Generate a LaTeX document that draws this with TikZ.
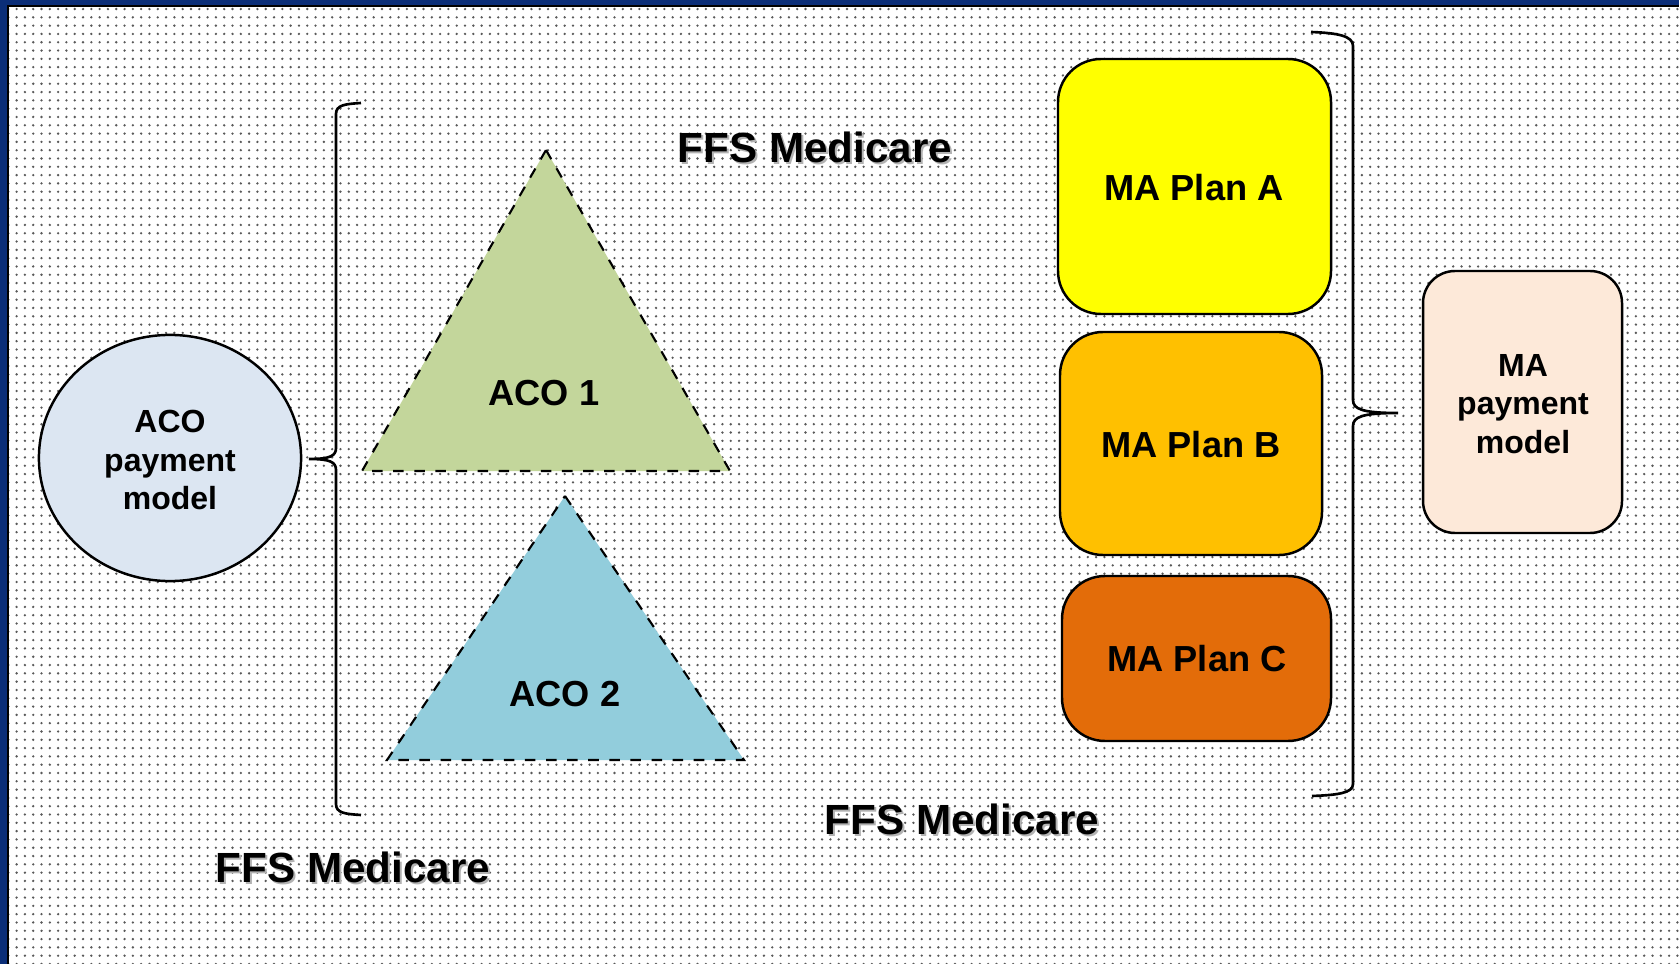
\documentclass[tikz,border=0pt]{standalone}
\usepackage{fontspec}
\setmainfont{Liberation Sans}
\usetikzlibrary{patterns.meta,shapes.geometric}
\definecolor{navy}{HTML}{0B2E78}
\definecolor{acoc}{HTML}{DCE6F2}
\definecolor{tri1}{HTML}{C3D69B}
\definecolor{tri2}{HTML}{92CDDC}
\definecolor{plana}{HTML}{FFFF00}
\definecolor{planb}{HTML}{FFC000}
\definecolor{planc}{HTML}{E36C09}
\definecolor{mapay}{HTML}{FDE9D9}
\tikzset{
  lbl/.style={font=\bfseries\fontsize{9.1pt}{11pt}\selectfont, align=center, text=black},
  big/.style={font=\bfseries\fontsize{10.3pt}{12pt}\selectfont, align=center},
  ffs/.style={font=\bfseries\fontsize{12pt}{14pt}\selectfont},
  plan/.style={draw=black, line width=0.7pt, rounded corners=0.43cm},
  tri/.style={draw=black, line width=0.6pt, dashed},
  brace/.style={draw=black, line width=0.75pt},
}
\begin{document}
\begin{tikzpicture}[x=0.01cm, y=-0.01cm]
\useasboundingbox (0,0) rectangle (1679,964);
\fill[navy] (0,0) rectangle (1679,964);
\fill[white] (8,6) rectangle (1690,975);
\fill[pattern={Dots[distance=0.083cm, radius=0.013cm]}, pattern color=gray!70!black] (8,6) rectangle (1690,975);
\draw[black, line width=0.6pt] (1690,6) -- (8,6) -- (8,975);

% ACO payment model
\node[draw=black, line width=0.7pt, fill=acoc, ellipse, minimum width=2.62cm, minimum height=2.46cm, inner sep=0pt, lbl] (acopay) at (170,458) {};
\node[lbl] (acotxt) at (170,460) {ACO\\payment\\model};

% left brace
\draw[brace] (361,103) .. controls (345,104) and (336,105) .. (336,114) -- (336,448)
  .. controls (336,456) and (330,459) .. (309,459)
  .. controls (330,459) and (336,462) .. (336,470) -- (336,804)
  .. controls (336,813) and (345,814) .. (361,815);

% triangles
\draw[tri, fill=tri1] (546,150) -- (730,471) -- (362,471) -- cycle;
\node[big] (aco1) at (544,393) {ACO 1};
\draw[tri, fill=tri2] (565,496) -- (744,760) -- (387,760) -- cycle;
\node[big] (aco2) at (565,694) {ACO 2};

% FFS labels
\node[ffs, text=gray!60] at (817,149) {FFS Medicare};
\node[ffs] (ffs1) at (815,147) {FFS Medicare};
\node[ffs, text=gray!60] at (964,821) {FFS Medicare};
\node[ffs] (ffs2) at (962,819) {FFS Medicare};
\node[ffs, text=gray!60] at (355,869) {FFS Medicare};
\node[ffs] (ffs3) at (353,867) {FFS Medicare};

% MA plans
\draw[plan, fill=plana] (1058,59) rectangle (1331,314);
\node[big] (pa) at (1194,188) {MA Plan A};
\draw[plan, fill=planb] (1060,332) rectangle (1322,555);
\node[big] (pb) at (1191,445) {MA Plan B};
\draw[plan, fill=planc] (1062,576) rectangle (1331,741);
\node[big] (pc) at (1197,659) {MA Plan C};

% right brace
\draw[brace] (1311,32) .. controls (1338,33) and (1353,36) .. (1353,46) -- (1353,400)
  .. controls (1353,409) and (1362,413) .. (1398,413)
  .. controls (1362,413) and (1353,417) .. (1353,426) -- (1353,784)
  .. controls (1353,793) and (1338,795) .. (1312,796);

% MA payment model
\draw[plan, rounded corners=0.32cm, fill=mapay] (1423,271) rectangle (1622,533);
\node[lbl] (mapaytxt) at (1523,404) {MA\\payment\\model};
\end{tikzpicture}
\end{document}
